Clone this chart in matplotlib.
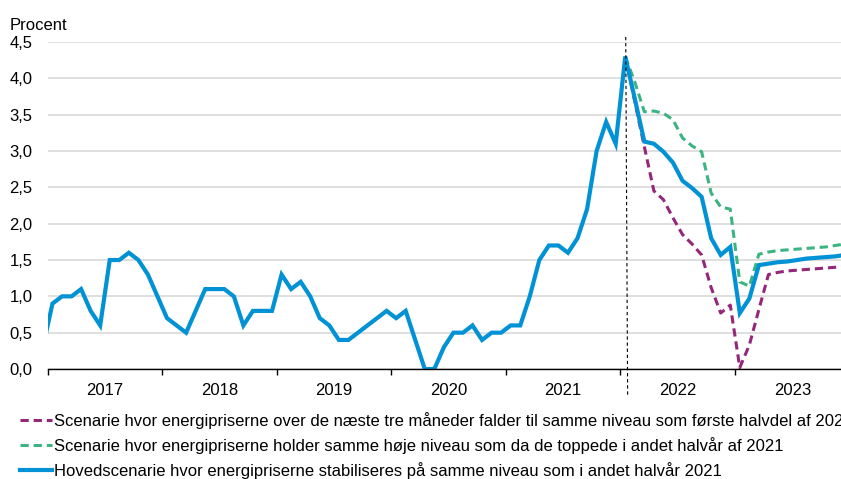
import matplotlib
matplotlib.use("Agg")
import matplotlib.pyplot as plt
import numpy as np

plt.rcParams['font.family'] = ['Liberation Sans', 'DejaVu Sans']

# month index: 0 = Jan 2017, points plotted mid-month; first value is Dec 2016
hist = [0.3,
        0.9, 1.0, 1.0, 1.1, 0.8, 0.6, 1.5, 1.5, 1.6, 1.5, 1.3, 1.0,   # 2017
        0.7, 0.6, 0.5, 0.8, 1.1, 1.1, 1.1, 1.0, 0.6, 0.8, 0.8, 0.8,   # 2018
        1.3, 1.1, 1.2, 1.0, 0.7, 0.6, 0.4, 0.4, 0.5, 0.6, 0.7, 0.8,   # 2019
        0.7, 0.8, 0.4, 0.0, 0.0, 0.3, 0.5, 0.5, 0.6, 0.4, 0.5, 0.5,   # 2020
        0.6, 0.6, 1.0, 1.5, 1.7, 1.7, 1.6, 1.8, 2.2, 3.0, 3.4, 3.1]   # 2021

# scenarios Jan 2022 - Dec 2023
hoved = [4.3, 3.72, 3.13, 3.10, 2.99, 2.84, 2.59, 2.49, 2.37, 1.80, 1.57, 1.68,
         0.77, 0.97, 1.43, 1.45, 1.47, 1.48, 1.50, 1.52, 1.53, 1.54, 1.55, 1.57]
falder = [4.3, 3.68, 3.06, 2.45, 2.33, 2.08, 1.85, 1.72, 1.57, 1.12, 0.77, 0.88,
          0.02, 0.33, 0.82, 1.30, 1.33, 1.35, 1.36, 1.37, 1.38, 1.39, 1.40, 1.41]
holder = [4.3, 3.95, 3.54, 3.55, 3.52, 3.43, 3.18, 3.07, 2.99, 2.42, 2.23, 2.20,
          1.20, 1.14, 1.58, 1.61, 1.63, 1.64, 1.65, 1.66, 1.67, 1.68, 1.70, 1.72]

years = ['2017', '2018', '2019', '2020', '2021', '2022', '2023']
labels = ['Scenarie hvor energipriserne over de næste tre måneder falder til samme niveau som første halvdel af 2021',
          'Scenarie hvor energipriserne holder samme høje niveau som da de toppede i andet halvår af 2021',
          'Hovedscenarie hvor energipriserne stabiliseres på samme niveau som i andet halvår 2021']

c_blue = '#0092D4'
c_green = '#3CB482'
c_purple = '#93277A'

x_hist = np.arange(-1, 60) + 0.5
x_scen = np.arange(60, 84) + 0.5

fig = plt.figure(figsize=(8.41, 4.79), dpi=100)
ax = fig.add_axes([0.0567, 0.2296, 0.9433, 0.6827])

ax.plot(x_scen, falder, color=c_purple, lw=2.2, dashes=(2.7, 1.6), label=labels[0])
ax.plot(x_scen, holder, color=c_green, lw=2.2, dashes=(2.7, 1.6), label=labels[1])
ax.plot(np.concatenate([x_hist, x_scen]), hist + hoved, color=c_blue, lw=3.0,
        label=labels[2], solid_joinstyle='miter')

# vertical marker at the peak
ax.plot([60.55, 60.75], [4.57, -0.36], color='black', lw=0.8, dashes=(3, 2.5), clip_on=False)

ax.set_xlim(0, 83.1)
ax.set_ylim(0, 4.5)
ax.set_yticks(np.arange(0, 4.51, 0.5))
ax.set_yticklabels([f'{v:.1f}'.replace('.', ',') for v in np.arange(0, 4.51, 0.5)], fontsize=12)
ax.yaxis.grid(True, color='#D9D9D9', lw=1.2)
ax.set_axisbelow(True)
ax.tick_params(axis='y', length=0, pad=11)

ax.set_xticks(np.arange(0, 84, 12))
ax.set_xticklabels([])
ax.set_xticks(np.arange(6, 84, 12), minor=True)
ax.set_xticklabels(years, minor=True, fontsize=12)
ax.tick_params(axis='x', which='major', length=4, width=1, direction='out', color='black')
ax.tick_params(axis='x', which='minor', length=0, pad=10)

for s in ['top', 'right', 'left']:
    ax.spines[s].set_visible(False)
ax.spines['bottom'].set_color('black')
ax.spines['bottom'].set_linewidth(1)

fig.text(10 / 841, 1 - 29.5 / 479, 'Procent', fontsize=12, va='baseline', ha='left')

fig.legend(loc='upper left', bbox_to_anchor=(20 / 841, 1 - 412 / 479), frameon=False,
           fontsize=12, handlelength=1.9, handletextpad=0.15, borderpad=0, borderaxespad=0,
           labelspacing=0.47)

fig.savefig('out.png', dpi=100)
